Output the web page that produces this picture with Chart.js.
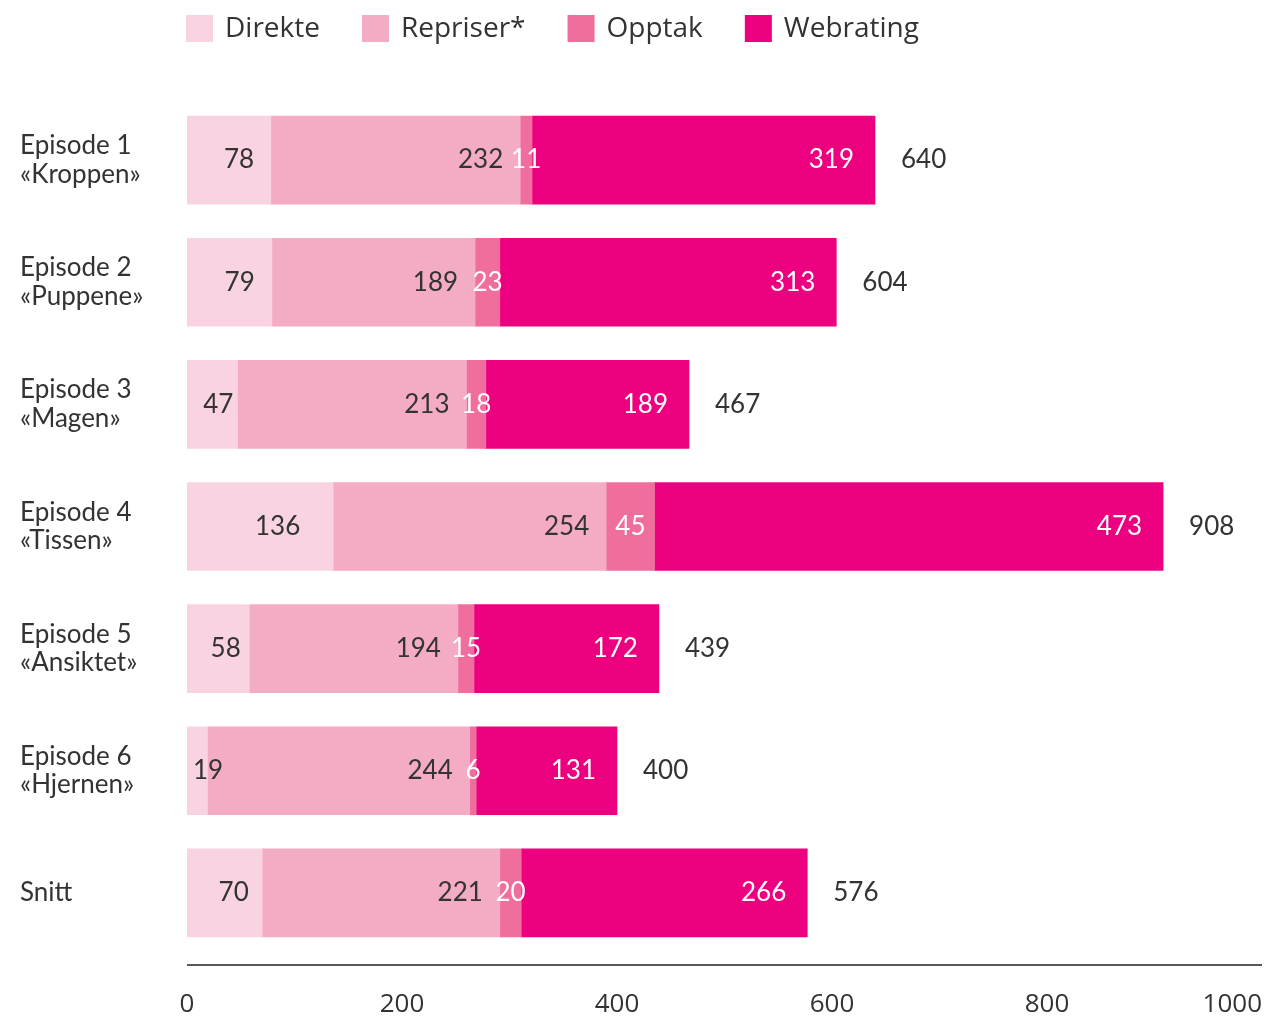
<!DOCTYPE html>
<html>
<head>
<meta charset="utf-8">
<script src="https://cdn.jsdelivr.net/npm/chart.js@4.4.1/dist/chart.umd.min.js"></script>
<style>
  html, body { margin: 0; padding: 0; background: #fff; }
  #wrap { width: 1268px; height: 1021px; position: relative; }
</style>
</head>
<body>
<div id="wrap"><canvas id="chart"></canvas></div>
<script>
const categories = [
  ['Episode 1', '«Kroppen»'],
  ['Episode 2', '«Puppene»'],
  ['Episode 3', '«Magen»'],
  ['Episode 4', '«Tissen»'],
  ['Episode 5', '«Ansiktet»'],
  ['Episode 6', '«Hjernen»'],
  'Snitt'
]
const direkte = [78, 79, 47, 136, 58, 19, 70]
const repriser = [232, 189, 213, 254, 194, 244, 221]
const opptak = [11, 23, 18, 45, 15, 6, 20]
const webrating = [319, 313, 189, 473, 172, 131, 266]
const totals = [640, 604, 467, 908, 439, 400, 576]
const xTicks = [0, 200, 400, 600, 800, 1000]

const seriesNames = ['Direkte', 'Repriser*', 'Opptak', 'Webrating']
const colors = ['#f9d3e1', '#f4abc4', '#ef6e9e', '#ec0080']
const textDark = '#333333'

const valueFont = '26px Lato'

// segment labels + totals
const valueLabels = {
  id: 'valueLabels',
  afterDatasetsDraw(chart) {
    const ctx = chart.ctx
    ctx.save()
    ctx.font = valueFont
    ctx.textBaseline = 'middle'
    chart.data.datasets.forEach((ds, di) => {
      const meta = chart.getDatasetMeta(di)
      meta.data.forEach((bar, i) => {
        const start = Math.min(bar.base, bar.x)
        const end = Math.max(bar.base, bar.x)
        const text = String(ds.data[i])
        const w = ctx.measureText(text).width
        ctx.fillStyle = di < 2 ? textDark : '#ffffff'
        if (di === 2) {
          ctx.textAlign = 'center'
          ctx.fillText(text, (start + end) / 2, bar.y)
        } else if (di === 0) {
          // first segment: text sits roughly two thirds into the segment
          let cx = start + (end - start) * 0.62
          if (cx - w / 2 < start + 6) cx = start + 6 + w / 2
          ctx.textAlign = 'center'
          ctx.fillText(text, cx, bar.y)
        } else {
          const pad = di === 3 ? 21 : 17
          ctx.textAlign = 'right'
          ctx.fillText(text, end - pad, bar.y)
        }
        if (di === chart.data.datasets.length - 1) {
          ctx.fillStyle = textDark
          ctx.textAlign = 'left'
          ctx.fillText(String(totals[i]), end + 26, bar.y)
        }
      })
    })
    ctx.restore()
  }
}

// legend row, axis line and x tick labels
const decorations = {
  id: 'decorations',
  afterDraw(chart) {
    const ctx = chart.ctx
    const area = chart.chartArea
    const xScale = chart.scales.x
    ctx.save()

    // legend
    ctx.font = '28px "Open Sans"'
    ctx.textBaseline = 'middle'
    ctx.textAlign = 'left'
    let x = 186
    seriesNames.forEach((name, i) => {
      ctx.fillStyle = colors[i]
      ctx.fillRect(x, 15, 27, 27)
      ctx.fillStyle = textDark
      ctx.fillText(name, x + 39, 29)
      x += 39 + ctx.measureText(name).width + 42
    })

    // axis line
    ctx.strokeStyle = '#222'
    ctx.lineWidth = 1.5
    ctx.beginPath()
    ctx.moveTo(area.left, area.bottom + 11)
    ctx.lineTo(area.right, area.bottom + 11)
    ctx.stroke()

    // tick labels
    ctx.font = '26px "Open Sans"'
    ctx.fillStyle = textDark
    xTicks.forEach((v, i) => {
      const px = xScale.getPixelForValue(v)
      const last = i === xTicks.length - 1
      ctx.textAlign = last ? 'right' : 'center'
      ctx.fillText(String(v), last ? area.right : px, area.bottom + 51)
    })
    ctx.restore()
  }
}

Chart.defaults.font.family = 'Lato'
Chart.defaults.color = textDark

new Chart(document.getElementById('chart').getContext('2d'), {
  type: 'bar',
  data: {
    labels: categories,
    datasets: [direkte, repriser, opptak, webrating].map((values, i) => ({
      label: seriesNames[i],
      data: values,
      backgroundColor: colors[i],
      borderWidth: 0,
      barThickness: 88
    }))
  },
  options: {
    indexAxis: 'y',
    responsive: true,
    maintainAspectRatio: false,
    animation: false,
    layout: {
      padding: { top: 99, left: 20, right: 6, bottom: 0 }
    },
    plugins: {
      legend: { display: false },
      tooltip: { enabled: false }
    },
    scales: {
      x: {
        stacked: true,
        min: 0,
        max: 1000,
        grid: { display: false },
        border: { display: false },
        ticks: { display: false },
        afterFit: (scale) => { scale.height = 67 }
      },
      y: {
        stacked: true,
        grid: { display: false },
        border: { display: false },
        ticks: {
          crossAlign: 'far',
          font: { size: 26, lineHeight: 1.1 },
          color: textDark
        },
        afterFit: (scale) => { scale.width = 167 }
      }
    }
  },
  plugins: [valueLabels, decorations]
})
</script>
</body>
</html>
